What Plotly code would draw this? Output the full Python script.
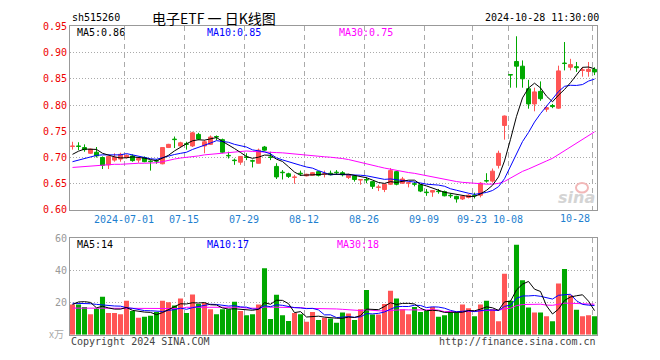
import plotly.graph_objects as go
import pandas as pd

# ---------------- data ----------------
holidays = ["2024-09-16", "2024-09-17", "2024-10-01", "2024-10-02", "2024-10-03",
            "2024-10-04", "2024-10-07"]
dates = [d.strftime("%Y-%m-%d") for d in pd.bdate_range("2024-06-18", "2024-10-28")
         if d.strftime("%Y-%m-%d") not in holidays]

opens = [0.721, 0.722, 0.719, 0.708, 0.710, 0.700, 0.686, 0.695, 0.697, 0.700,
         0.703, 0.695, 0.700, 0.693, 0.694, 0.688, 0.719, 0.735, 0.722, 0.726,
         0.722, 0.744, 0.722, 0.725, 0.740, 0.734, 0.704, 0.695, 0.691, 0.701,
         0.694, 0.689, 0.720, 0.701, 0.683, 0.672, 0.669, 0.662, 0.670, 0.665,
         0.666, 0.673, 0.668, 0.670, 0.672, 0.671, 0.662, 0.665, 0.657, 0.658,
         0.654, 0.643, 0.639, 0.649, 0.673, 0.651, 0.651, 0.650, 0.648, 0.634,
         0.634, 0.636, 0.635, 0.628, 0.626, 0.621, 0.624, 0.628, 0.628, 0.656,
         0.655, 0.685, 0.761, 0.858, 0.883, 0.874, 0.831, 0.802, 0.826, 0.792,
         0.799, 0.794, 0.880, 0.872, 0.873, 0.866, 0.864, 0.868]
highs = [0.730, 0.729, 0.725, 0.717, 0.720, 0.702, 0.703, 0.708, 0.709, 0.706,
         0.706, 0.700, 0.702, 0.695, 0.697, 0.720, 0.726, 0.740, 0.730, 0.730,
         0.749, 0.747, 0.733, 0.742, 0.742, 0.736, 0.711, 0.698, 0.702, 0.708,
         0.696, 0.717, 0.722, 0.711, 0.689, 0.676, 0.671, 0.667, 0.675, 0.669,
         0.672, 0.674, 0.675, 0.675, 0.676, 0.674, 0.669, 0.666, 0.659, 0.663,
         0.655, 0.648, 0.650, 0.680, 0.674, 0.663, 0.654, 0.654, 0.649, 0.640,
         0.638, 0.640, 0.637, 0.632, 0.627, 0.627, 0.630, 0.633, 0.653, 0.670,
         0.679, 0.713, 0.780, 0.858, 0.931, 0.885, 0.848, 0.833, 0.845, 0.799,
         0.802, 0.875, 0.920, 0.888, 0.882, 0.872, 0.882, 0.872]
lows = [0.715, 0.714, 0.711, 0.707, 0.700, 0.678, 0.678, 0.692, 0.692, 0.698,
        0.692, 0.690, 0.691, 0.675, 0.688, 0.687, 0.718, 0.718, 0.720, 0.715,
        0.720, 0.733, 0.708, 0.724, 0.733, 0.708, 0.698, 0.686, 0.686, 0.695,
        0.681, 0.689, 0.713, 0.695, 0.659, 0.658, 0.661, 0.650, 0.665, 0.664,
        0.665, 0.664, 0.662, 0.666, 0.667, 0.664, 0.659, 0.654, 0.648, 0.651,
        0.640, 0.636, 0.634, 0.648, 0.647, 0.650, 0.643, 0.645, 0.634, 0.627,
        0.625, 0.631, 0.626, 0.623, 0.614, 0.619, 0.622, 0.622, 0.624, 0.652,
        0.652, 0.679, 0.734, 0.833, 0.833, 0.833, 0.793, 0.788, 0.808, 0.787,
        0.794, 0.793, 0.866, 0.866, 0.863, 0.854, 0.854, 0.857]
closes = [0.722, 0.721, 0.715, 0.716, 0.703, 0.685, 0.702, 0.700, 0.706, 0.704,
          0.694, 0.698, 0.692, 0.692, 0.693, 0.719, 0.725, 0.734, 0.728, 0.725,
          0.747, 0.735, 0.730, 0.739, 0.739, 0.710, 0.703, 0.694, 0.702, 0.700,
          0.693, 0.714, 0.714, 0.700, 0.663, 0.671, 0.664, 0.663, 0.669, 0.668,
          0.671, 0.666, 0.669, 0.667, 0.671, 0.667, 0.667, 0.658, 0.658, 0.657,
          0.645, 0.644, 0.649, 0.675, 0.649, 0.659, 0.652, 0.649, 0.636, 0.633,
          0.637, 0.635, 0.627, 0.627, 0.621, 0.626, 0.628, 0.627, 0.651, 0.655,
          0.674, 0.708, 0.779, 0.857, 0.874, 0.850, 0.802, 0.825, 0.812, 0.795,
          0.797, 0.865, 0.879, 0.877, 0.871, 0.867, 0.868, 0.863]
volumes = [18.7, 18.7, 17.1, 12.7, 16.1, 23.5, 13.5, 13.5, 12.7, 21.1,
           14.7, 10.5, 11.1, 11.7, 14.1, 21.1, 20.1, 18.1, 22.5, 13.5,
           24.9, 19.1, 19.7, 15.7, 12.7, 15.7, 15.7, 20.5, 14.7, 12.1,
           12.7, 18.7, 41.2, 9.7, 24.7, 12.1, 8.5, 13.5, 12.7, 8.0,
           14.1, 9.1, 10.5, 10.0, 7.4, 13.7, 13.1, 9.1, 15.7, 27.8,
           12.5, 12.5, 19.1, 27.2, 22.5, 15.7, 12.7, 17.1, 14.1, 14.7,
           17.1, 11.1, 12.1, 13.7, 13.8, 18.8, 16.4, 11.4, 18.8, 21.0,
           15.8, 8.4, 37.8, 21.0, 55.8, 33.8, 16.8, 13.8, 13.8, 11.4,
           8.4, 31.8, 40.8, 24.4, 15.4, 11.4, 12.0, 11.4]

# moving-average values at the left edge (they depend on days before the window)
ma5_head = [0.706, 0.712, 0.716, 0.716]
ma10_head = [0.692, 0.695, 0.699, 0.702, 0.704, 0.705, 0.705, 0.705, 0.705]
ma30_head = [0.681, 0.682, 0.683, 0.683, 0.684, 0.685, 0.686, 0.687, 0.687, 0.688,
             0.689, 0.689, 0.689, 0.689, 0.690, 0.692, 0.695, 0.697, 0.699, 0.700,
             0.702, 0.703, 0.705, 0.706, 0.707, 0.708, 0.709, 0.710, 0.710]
vma5_head = [18.7, 20.3, 20.5, 20.0]
vma10_head = [19.5, 19.5, 19.4, 19.2, 18.8, 18.4, 18.1, 17.8, 17.7]
vma30_head = [16.5] * 13 + [16.2] * 6 + [17.0] * 10

tick_dates = ["2024-07-01", "2024-07-15", "2024-07-29", "2024-08-12", "2024-08-26",
              "2024-09-09", "2024-09-23", "2024-10-08", "2024-10-28"]
tick_text = ["2024-07-01", "07-15", "07-29", "08-12", "08-26", "09-09", "09-23",
             "10-08", "10-28"]
price_ticks = [0.60, 0.65, 0.70, 0.75, 0.80, 0.85, 0.90, 0.95]
vol_ticks = [20, 40, 60]

price_ma_labels = ["MA5:0.86", "MA10:0.85", "MA30:0.75"]
vol_ma_labels = ["MA5:14", "MA10:17", "MA30:18"]

# ---------------- helpers ----------------
def moving_avg(vals, n, head):
    out = list(head)
    for i in range(len(head), len(vals)):
        out.append(sum(vals[i - n + 1:i + 1]) / n)
    return out

W, H = 660, 360
PL, PR = 70, 597
P_TOP, P_BOT = 21, 211
V_TOP, V_BOT = 240, 340
def px(x): return x / W
def py(y): return 1 - y / H

RED = "#FF5555"
GREEN = "#00A800"
MONO = "DejaVu Sans Mono"
XLAB = "#1E7FD0"

idx = list(range(len(dates)))
up = [c > o for o, c in zip(opens, closes)]

fig = go.Figure()

# candle wicks & bodies
for flag, col in ((True, RED), (False, GREEN)):
    wx, wy = [], []
    bx, bbase, bh = [], [], []
    for i in idx:
        if up[i] != flag:
            continue
        wx += [i, i, None]
        wy += [lows[i], highs[i], None]
        bx.append(i)
        bbase.append(min(opens[i], closes[i]))
        bh.append(abs(closes[i] - opens[i]))
    fig.add_trace(go.Scatter(x=wx, y=wy, mode="lines", line=dict(color=col, width=1),
                             xaxis="x", yaxis="y", hoverinfo="skip"))
    fig.add_trace(go.Bar(x=bx, y=bh, base=bbase, width=0.66,
                         marker=dict(color=col, line=dict(color=col, width=1)),
                         xaxis="x", yaxis="y"))

ma5 = moving_avg(closes, 5, ma5_head)
ma10 = moving_avg(closes, 10, ma10_head)
ma30 = moving_avg(closes, 30, ma30_head)
for s, col in ((ma30, "#FF00FF"), (ma10, "#0000FF"), (ma5, "#000000")):
    fig.add_trace(go.Scatter(x=idx, y=s, mode="lines", line=dict(color=col, width=1),
                             xaxis="x", yaxis="y"))

# volume
fig.add_trace(go.Bar(x=idx, y=volumes, width=0.84,
                     marker=dict(color=[RED if u else GREEN for u in up], line=dict(width=0)),
                     xaxis="x2", yaxis="y2"))
vma5 = moving_avg(volumes, 5, vma5_head)
vma10 = moving_avg(volumes, 10, vma10_head)
vma30 = moving_avg(volumes, 30, vma30_head)
for s, col in ((vma30, "#FF00FF"), (vma10, "#0000FF"), (vma5, "#000000")):
    fig.add_trace(go.Scatter(x=idx, y=s, mode="lines", line=dict(color=col, width=1),
                             xaxis="x2", yaxis="y2"))

tickvals = [dates.index(d) - 0.417 for d in tick_dates]
# the last label is drawn right-aligned to its grid line (as in the original)
axis_text = tick_text[:-1] + [""]
xrange = [-0.417, len(dates) - 1 + 0.417]
xdom = [px(PL), px(PR)]
grid_col = "#AAAAAA"
frame_col = "#999999"

fig.update_layout(
    width=W, height=H, margin=dict(l=0, r=0, t=0, b=0),
    paper_bgcolor="white", plot_bgcolor="white",
    showlegend=False, barmode="overlay", hovermode=False,
    xaxis=dict(domain=xdom, range=xrange, anchor="y", tickmode="array",
               tickvals=tickvals, ticktext=axis_text,
               tickfont=dict(family=MONO, size=10, color=XLAB),
               showgrid=True, gridcolor=grid_col, griddash="5px,4px", gridwidth=1,
               showline=True, linecolor=frame_col, linewidth=1, mirror=True,
               ticks="", zeroline=False, fixedrange=True),
    yaxis=dict(domain=[py(P_BOT), py(P_TOP)], range=[0.60, 0.95], anchor="x",
               tickmode="array", tickvals=price_ticks,
               ticktext=["%.2f" % v for v in price_ticks],
               tickfont=dict(family=MONO, size=10, color="#EE0000"),
               showgrid=True, gridcolor=grid_col, griddash="1px,2px", gridwidth=1,
               showline=True, linecolor=frame_col, linewidth=1, mirror=True,
               ticks="", zeroline=False),
    xaxis2=dict(domain=xdom, range=xrange, anchor="y2", tickmode="array",
                tickvals=tickvals, showticklabels=False,
                showgrid=True, gridcolor=grid_col, griddash="5px,4px", gridwidth=1,
                showline=True, linecolor=frame_col, linewidth=1, mirror=True,
                ticks="", zeroline=False),
    yaxis2=dict(domain=[py(V_BOT), py(V_TOP)], range=[0, 60], anchor="x2",
                tickmode="array", tickvals=vol_ticks,
                tickfont=dict(family=MONO, size=10, color="#999999"),
                showgrid=True, gridcolor=grid_col, griddash="1px,2px", gridwidth=1,
                showline=True, linecolor=frame_col, linewidth=1, mirror=True,
                ticks="", zeroline=False),
)

ann = []
def text(x, y, s, color="#000000", anchor="left", size=10, family=MONO, **kw):
    ann.append(dict(x=px(x), y=py(y), xref="paper", yref="paper", text=s,
                    showarrow=False, xanchor=anchor, yanchor="middle",
                    font=dict(family=family, size=size, color=color), **kw))

text(70, 12, "sh515260")
text(150, 12, "电子ETF 一 日K线图", size=14, family="Noto Sans CJK SC")
text(601, 12, "2024-10-28 11:30:00", anchor="right")
for s, x, c in zip(price_ma_labels, (75, 205, 337), ("#000000", "#0000FF", "#FF00FF")):
    text(x, 27, s, color=c)
for s, x, c in zip(vol_ma_labels, (75, 205, 335), ("#000000", "#0000FF", "#FF00FF")):
    text(x, 247, s, color=c)
# last date label, right-aligned at its grid line
last_x = PL + (tickvals[-1] - xrange[0]) / (xrange[1] - xrange[0]) * (PR - PL)
ann.append(dict(x=tickvals[-1], y=py(P_BOT + 9), xref="x", yref="paper",
                text=tick_text[-1], showarrow=False, xanchor="right", yanchor="middle",
                font=dict(family=MONO, size=10, color=XLAB)))
text(66, 339, "x万", color="#AAAAAA", anchor="right", size=10, family="Noto Sans CJK SC")
text(69, 347, "Copyright 2024 SINA.COM", color="#444444")
text(598, 347, "http://finance.sina.com.cn", color="#444444", anchor="right")
ann.append(dict(x=px(597), y=py(198), xref="paper", yref="paper", text="<b><i>sina</i></b>",
                showarrow=False, xanchor="right", yanchor="middle",
                font=dict(family="DejaVu Sans", size=16, color="#D4D4D4")))
fig.update_layout(annotations=ann)
fig.add_shape(type="circle", xref="paper", yref="paper",
              x0=px(576), x1=px(588), y0=py(193), y1=py(183),
              line=dict(color="#F2B8B8", width=2), fillcolor="rgba(0,0,0,0)")

fig.write_html("out.html", config={"displayModeBar": False},
               post_script="document.body.style.margin='0px';"
                           "document.body.style.overflow='hidden';"
                           "document.documentElement.style.overflow='hidden';")
